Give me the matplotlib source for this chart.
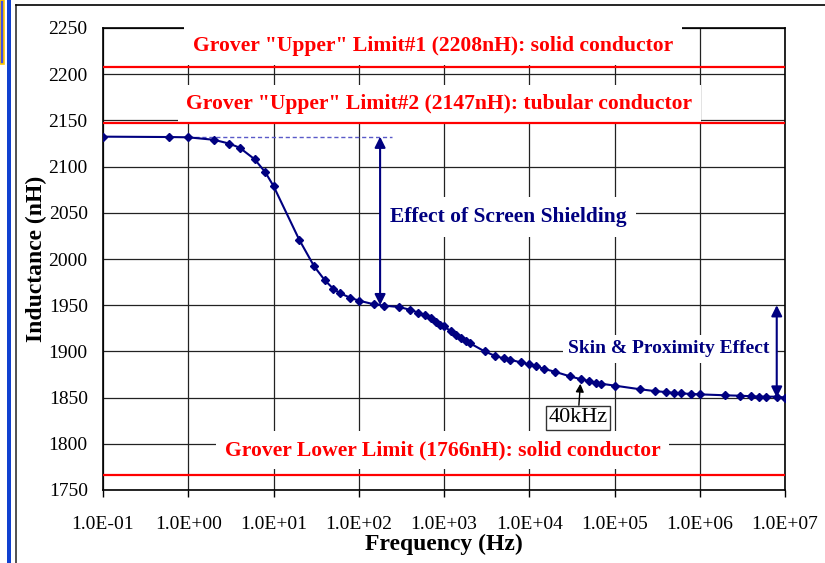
import matplotlib
matplotlib.use('Agg')
import matplotlib.pyplot as plt
from matplotlib.ticker import FuncFormatter, FixedLocator, NullLocator
from matplotlib.patches import Rectangle
from matplotlib.lines import Line2D

# measured inductance vs frequency
freq = [0.1, 0.6, 1, 2, 3, 4, 6, 8, 10, 20, 30, 40, 50, 60, 80, 100, 150, 200,
        300, 400, 500, 600, 700, 800, 900, 1000, 1200, 1400, 1600, 1800, 2000,
        3000, 4000, 5000, 6000, 8000, 10000, 12000, 15000, 20000, 30000, 40000,
        50000, 60000, 70000, 100000, 200000, 300000, 400000, 500000, 600000,
        800000, 1e6, 2e6, 3e6, 4e6, 5e6, 6e6, 8e6, 1e7]
inductance = [2132.4, 2132, 2131.7, 2129, 2125, 2120.5, 2108, 2094, 2079, 2021,
              1992, 1977, 1968, 1963, 1958, 1955, 1951, 1949.5, 1948, 1945, 1942,
              1939, 1936, 1932, 1929, 1927, 1922, 1918, 1914, 1911, 1909, 1900,
              1895, 1892.5, 1891, 1888, 1886, 1884, 1881, 1878, 1873, 1870, 1868,
              1866, 1865, 1863, 1859, 1857, 1856, 1855, 1854.5, 1854, 1853.5,
              1852.5, 1852, 1851.5, 1851, 1851, 1851, 1850]

# Grover limits (nH)
limit_values = [2208, 2147, 1766]
limit_labels = ['Grover "Upper" Limit#1 (2208nH): solid conductor',
                'Grover "Upper" Limit#2 (2147nH): tubular conductor',
                'Grover Lower Limit (1766nH): solid conductor']
limit_label_pos = [(743, 2230.5), (885, 2167.7), (960, 1793.3)]

x_ticks = [0.1, 1, 10, 100, 1e3, 1e4, 1e5, 1e6, 1e7]
y_ticks = list(range(1750, 2251, 50))

navy = '#000080'
plt.rcParams['font.family'] = ['Liberation Serif', 'DejaVu Serif']

fig = plt.figure(figsize=(8.25, 5.63), dpi=100)
ax = fig.add_axes([103 / 825, 1 - 490 / 563, 682 / 825, 462 / 563])

# slide decorations around the chart
fig.add_artist(Rectangle((7 / 825, 0), 4 / 825, 1, transform=fig.transFigure,
                         facecolor='#1040d0', edgecolor='none'))
fig.add_artist(Rectangle((0, 1 - 64 / 563), 4 / 825, 64 / 563, transform=fig.transFigure,
                         facecolor='#4050e0', edgecolor='#ffc800', lw=1.2))
fig.add_artist(Line2D([15.5 / 825, 15.5 / 825], [0, 1 - 5 / 563],
                      transform=fig.transFigure, color='#333333', lw=1.2))
fig.add_artist(Line2D([15.5 / 825, 1], [1 - 5 / 563, 1 - 5 / 563],
                      transform=fig.transFigure, color='black', lw=1.2))

ax.set_xscale('log')
ax.set_xlim(0.1, 1e7)
ax.set_ylim(1750, 2250)
ax.xaxis.set_major_locator(FixedLocator(x_ticks))
ax.xaxis.set_minor_locator(NullLocator())
ax.yaxis.set_major_locator(FixedLocator(y_ticks))
ax.xaxis.set_major_formatter(FuncFormatter(lambda v, p: f'{v:.1E}'))
ax.tick_params(axis='x', direction='out', length=5, width=1, labelsize=14, pad=14)
ax.tick_params(axis='y', length=0, labelsize=14, pad=11)
ax.grid(True, color='#222222', lw=0.9)
ax.set_axisbelow(True)
for s in ax.spines.values():
    s.set_color('black')
    s.set_linewidth(1.2)

# limit lines + labels
for val, lab, pos in zip(limit_values, limit_labels, limit_label_pos):
    ax.axhline(val, color='#ff0000', lw=1.6, zorder=4)
    ax.text(pos[0], pos[1], lab, color='#ff0000', fontsize=15.6, fontweight='bold',
            ha='center', va='center', zorder=3,
            bbox=dict(boxstyle='square,pad=0.4', facecolor='white', edgecolor='none'))

# main curve
ax.plot(freq, inductance, color=navy, lw=1.5, marker='D', markersize=4.5, zorder=5)

# screen shielding annotation
ax.hlines(inductance[2], 1, 245, colors='#5a5ac8', linestyles=(0, (3, 2)), lw=1, zorder=4)
ax.annotate('', xy=(178, inductance[0]), xytext=(178, 1950),
            arrowprops=dict(arrowstyle='<|-|>', color=navy, lw=1.5,
                            mutation_scale=16, shrinkA=0, shrinkB=0), zorder=6)
ax.text(5640, 2045.5, 'Effect of Screen Shielding', color=navy, fontsize=15.5,
        fontweight='bold', ha='center', va='center', zorder=3,
        bbox=dict(boxstyle='square,pad=0.45', facecolor='white', edgecolor='none'))

# skin & proximity annotation
ax.annotate('', xy=(8e6, 1950), xytext=(8e6, inductance[-1]),
            arrowprops=dict(arrowstyle='<|-|>', color=navy, lw=1.5,
                            mutation_scale=16, shrinkA=0, shrinkB=0), zorder=6)
ax.text(4.37e5, 1902.6, 'Skin & Proximity Effect', color=navy, fontsize=14,
        fontweight='bold', ha='center', va='center', zorder=3,
        bbox=dict(boxstyle='square,pad=0.3', facecolor='white', edgecolor='none'))

# 40kHz marker
ax.annotate('40kHz', xy=(40000, 1868), xytext=(37300, 1828), fontsize=16,
            ha='center', va='center', zorder=6,
            bbox=dict(boxstyle='square,pad=0.12', facecolor='white', edgecolor='#333333', lw=1),
            arrowprops=dict(arrowstyle='-|>', color='black', lw=1, shrinkA=0, shrinkB=2,
                            mutation_scale=12))

ax.set_xlabel('Frequency (Hz)', fontsize=17, fontweight='bold', labelpad=0)
ax.set_ylabel('Inductance (nH)', fontsize=17, fontweight='bold', labelpad=1)

fig.savefig('out.png', dpi=100)
